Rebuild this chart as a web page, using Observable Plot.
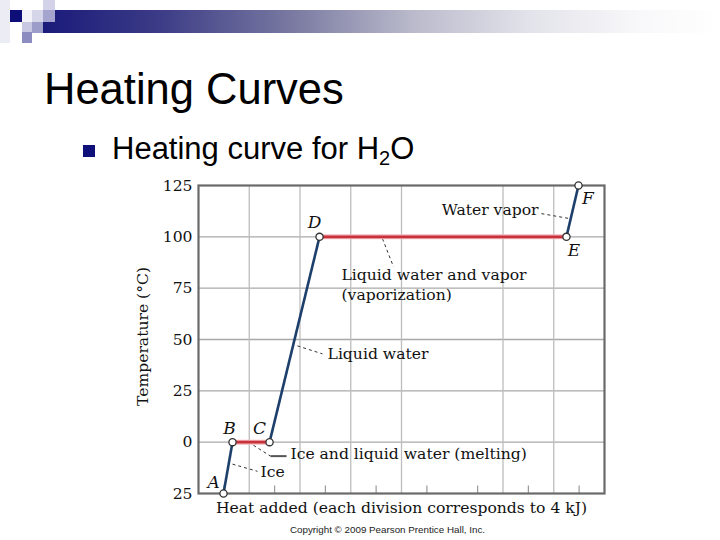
<!DOCTYPE html>
<html>
<head>
<meta charset="utf-8">
<script src="https://cdn.jsdelivr.net/npm/d3@7"></script>
<script src="https://cdn.jsdelivr.net/npm/@observablehq/plot@0.6"></script>
<style>
  html, body { margin: 0; padding: 0; background: #fff; }
  #page { position: relative; width: 720px; height: 540px; overflow: hidden; background: #fff; }
  .sq { position: absolute; }
  #bar { position: absolute; left: 32px; top: 10px; width: 688px; height: 23px;
         background: linear-gradient(to right, #17177a 0%, #3a3a86 18%, #7a7aa2 38%, #b9b9cb 55%, #e2e2ea 72%, #f8f8fa 88%, #ffffff 100%); }
  #title { position: absolute; left: 44px; top: 63px; font-family: Arial, "Liberation Sans", sans-serif;
           font-size: 43.5px; line-height: 52px; color: #000; white-space: nowrap; }
  #bullet { position: absolute; left: 83px; top: 145px; width: 12px; height: 12px; background: #10107a; }
  #sub { position: absolute; left: 112px; top: 131px; font-family: Arial, "Liberation Sans", sans-serif;
         font-size: 31px; line-height: 36px; color: #000; white-space: nowrap; }
  #sub sub { font-size: 20px; vertical-align: -6px; line-height: 0; }
  #chart { position: absolute; left: 130px; top: 170px; }
</style>
</head>
<body>
<div id="page">
  <div class="sq" style="left:0;top:0;width:10px;height:43px;background:#ececf5"></div>
  <div class="sq" style="left:43px;top:0;width:12px;height:10px;background:#d2d2e8"></div>
  <div class="sq" style="left:10px;top:10px;width:12px;height:12px;background:#0e0e78"></div>
  <div class="sq" style="left:22px;top:10px;width:10px;height:12px;background:#f2f2f8"></div>
  <div id="bar"></div>
  <div class="sq" style="left:32px;top:10px;width:11px;height:12px;background:#d6d6ea"></div>
  <div class="sq" style="left:43px;top:10px;width:12px;height:12px;background:#a4a4cf"></div>
  <div class="sq" style="left:22px;top:22px;width:10px;height:10px;background:#c8c8e2"></div>
  <div class="sq" style="left:32px;top:22px;width:11px;height:11px;background:#9d9dca"></div>
  <div class="sq" style="left:22px;top:32px;width:10px;height:11px;background:#8c8cc0"></div>
  <div id="title">Heating Curves</div>
  <div id="bullet"></div>
  <div id="sub">Heating curve for H<sub>2</sub>O</div>
  <div id="chart"></div>
</div>
<script>
// ---- data ----
const pointNames = ["A", "B", "C", "D", "E", "F"];
const heatKJ     = [1.97, 2.68, 5.6, 9.54, 29.0, 29.95];   // heat added (kJ)
const tempC      = [-25, 0, 0, 100, 100, 125];            // temperature (°C)
const segmentKind = ["heating", "phase", "heating", "phase", "heating"];

// letter label positions (data units)
const letterX = [1.2, 2.45, 4.8, 9.15, 29.6, 30.7];
const letterY = [-19.5, 6.6, 6.6, 106.8, 93.2, 118.5];

const yTicks = [-25, 0, 25, 50, 75, 100, 125];
const yGrid = [0, 25, 50, 75, 100];
const xGrid = [4, 8, 12, 16, 24, 28];
const xMinor = [2, 6, 10, 14, 18, 22, 26, 30];

// annotations
const noteText = ["Water vapor", "Liquid water and vapor", "(vaporization)", "Liquid water", "Ice and liquid water (melting)", "Ice"];
const noteX = [26.8, 11.27, 11.27, 10.17, 7.25, 4.89];
const noteY = [113.3, 81.5, 71.8, 43.0, -5.6, -14.6];
const noteAnchor = ["end", "start", "start", "start", "start", "start"];

const leaderX1 = [27.03, 14.5, 7.8, 4.33, 2.68];
const leaderY1 = [111.3, 99.1, 46.9, -1.5, -10.7];
const leaderX2 = [29.24, 15.37, 9.77, 5.67, 4.65];
const leaderY2 = [108.9, 85.4, 43.0, -6.8, -14.2];
const solidLeaderX = [5.67, 6.94];
const solidLeaderY = [-6.8, -6.8];

const xLabel = "Heat added (each division corresponds to 4 kJ)";
const yLabel = "Temperature (°C)";
const credit = "Copyright © 2009 Pearson Prentice Hall, Inc.";

// ---- build tables ----
const points = pointNames.map((n, i) => ({name: n, x: heatKJ[i], y: tempC[i], lx: letterX[i], ly: letterY[i]}));
const segments = segmentKind.map((k, i) => ({kind: k, x1: heatKJ[i], y1: tempC[i], x2: heatKJ[i + 1], y2: tempC[i + 1]}));
const notes = noteText.map((t, i) => ({t, x: noteX[i], y: noteY[i], a: noteAnchor[i]}));
const leaders = leaderX1.map((d, i) => ({x1: d, y1: leaderY1[i], x2: leaderX2[i], y2: leaderY2[i]}));

const serif = "'DejaVu Serif', 'Liberation Serif', serif";
const fs = 15.6;

const chart = Plot.plot({
  width: 490,
  height: 370,
  marginLeft: 68,
  marginRight: 16,
  marginTop: 15,
  marginBottom: 47,
  style: {fontFamily: serif, background: "transparent", overflow: "visible"},
  x: {domain: [0, 32], axis: null},
  y: {domain: [-25, 125], axis: null},
  marks: [
    Plot.ruleY(yGrid, {stroke: "#a9a9a9", strokeWidth: 1.3}),
    Plot.ruleX(xGrid, {stroke: "#bdbdbd", strokeWidth: 1.3}),
    Plot.ruleX(xMinor, {x: d => d, y1: -25, y2: -21.3, stroke: "#999", strokeWidth: 1.2}),
    Plot.frame({stroke: "#6a6a6a", strokeWidth: 2.2}),
    Plot.axisY(yTicks, {tickSize: 0, tickPadding: 6, fontSize: fs, fill: "#111", tickFormat: d => String(Math.abs(d))}),
    Plot.text([yLabel], {frameAnchor: "left", textAnchor: "middle", dx: -56, dy: -3, rotate: -90, fontSize: fs, fill: "#111"}),
    Plot.text([xLabel], {frameAnchor: "bottom", textAnchor: "middle", dy: 19, fontSize: fs, fill: "#111"}),
    Plot.text([credit], {frameAnchor: "bottom", textAnchor: "middle", dy: 39, dx: -14, fontSize: 9.8, fill: "#222", fontFamily: "'Liberation Sans', Arial, sans-serif"}),
    Plot.link(leaders, {x1: "x1", y1: "y1", x2: "x2", y2: "y2", stroke: "#333", strokeWidth: 1, strokeDasharray: "3,3"}),
    Plot.link([0], {x1: solidLeaderX[0], y1: solidLeaderY[0], x2: solidLeaderX[1], y2: solidLeaderY[1], stroke: "#555", strokeWidth: 2}),
    Plot.link(segments.filter(d => d.kind === "phase"), {x1: "x1", y1: "y1", x2: "x2", y2: "y2", stroke: "#f2b8bb", strokeWidth: 5}),
    Plot.link(segments, {x1: "x1", y1: "y1", x2: "x2", y2: "y2",
      stroke: d => d.kind === "phase" ? "#c8323c" : "#1d3f6b", strokeWidth: 2.6}),
    Plot.dot(points, {x: "x", y: "y", r: 3.6, fill: "white", stroke: "#333", strokeWidth: 1.3}),
    Plot.text(points, {x: "lx", y: "ly", text: "name", fontStyle: "italic", fontSize: 17, fill: "#111"}),
    Plot.text(notes.filter(d => d.a === "start"), {x: "x", y: "y", text: "t", textAnchor: "start", fontSize: fs, fill: "#111"}),
    Plot.text(notes.filter(d => d.a === "end"), {x: "x", y: "y", text: "t", textAnchor: "end", fontSize: fs, fill: "#111"})
  ]
});
document.getElementById("chart").appendChild(chart);
</script>
</body>
</html>
